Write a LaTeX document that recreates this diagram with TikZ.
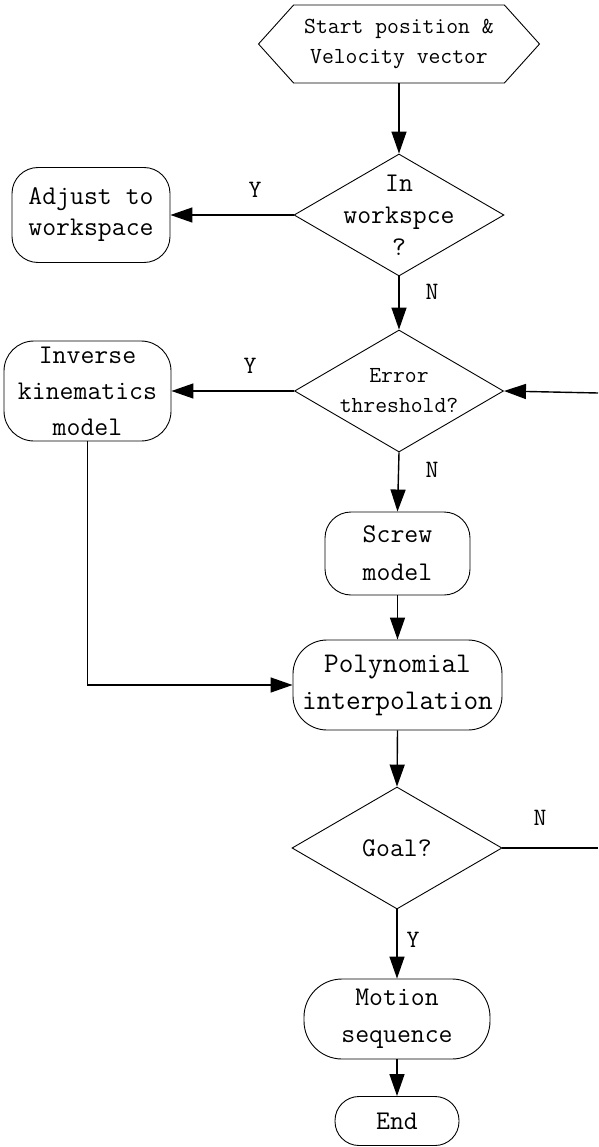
\documentclass[tikz,border=0pt]{standalone}
\usepackage{fontspec}
\usetikzlibrary{shapes.geometric,shapes.symbols,arrows.meta}
\begin{document}
\begin{tikzpicture}[x=1pt,y=-1pt,
  box/.style={draw,line width=0.9pt,rectangle,inner sep=0pt},
  dec/.style={draw,line width=0.9pt,diamond,inner sep=0pt},
  txt/.style={font=\ttfamily\fontsize{27}{36}\selectfont,align=center,inner sep=0pt},
  stxt/.style={font=\ttfamily\fontsize{23}{30}\selectfont,align=center,inner sep=0pt},
  yn/.style={font=\ttfamily\fontsize{25}{30}\selectfont,inner sep=0pt},
  conn/.style={line width=1.4pt,-{Triangle[length=22pt,width=15pt]}},
  plain/.style={line width=1.4pt}]
\useasboundingbox (0,0) rectangle (598,1147);
% nodes
\node[draw,line width=0.9pt,signal,signal to=west and east,signal pointer angle=96,
  minimum width=281pt,minimum height=78pt,inner sep=0pt,
  label={[stxt]center:Start position \&\\Velocity vector}] (start) at (399,44) {};
\node[dec,minimum width=210pt,minimum height=122pt,
  label={[txt,font=\ttfamily\fontsize{27}{32}\selectfont]center:In\\workspce\\?}] (d1) at (399,215) {};
\node[box,rounded corners=26pt,minimum width=158pt,minimum height=95pt,
  label={[txt,font=\ttfamily\fontsize{27}{31}\selectfont]center:Adjust to\\workspace}] (adj) at (91,215) {};
\node[dec,minimum width=209pt,minimum height=122pt,
  label={[stxt]center:Error\\threshold?}] (d2) at (399,391) {};
\node[box,rounded corners=30pt,minimum width=167pt,minimum height=100pt,
  label={[txt]center:Inverse\\kinematics\\model}] (inv) at (87.5,391) {};
\node[box,rounded corners=26pt,minimum width=145pt,minimum height=83pt,
  label={[txt,font=\ttfamily\fontsize{27}{38}\selectfont]center:Screw\\model}] (screw) at (397.5,553.5) {};
\node[box,rounded corners=34pt,minimum width=209pt,minimum height=90pt,
  label={[txt,font=\ttfamily\fontsize{28.5}{37}\selectfont]center:Polynomial\\interpolation}] (poly) at (397.5,685) {};
\node[dec,minimum width=210pt,minimum height=122pt,
  label={[txt]center:Goal?}] (goal) at (397,848) {};
\node[box,rounded corners=38pt,minimum width=186pt,minimum height=80pt,
  label={[txt,font=\ttfamily\fontsize{27}{37}\selectfont]center:Motion\\sequence}] (motion) at (397,1019) {};
\node[box,rounded corners=24pt,minimum width=124pt,minimum height=49pt,
  label={[txt]center:End}] (end) at (397,1121) {};
% free ends
\coordinate (fbin) at (598,393);
\coordinate (goalout) at (598,848);
% yes/no labels
\node[yn] (y1) at (255,190) {Y};
\node[yn] (n1) at (432,292) {N};
\node[yn] (y2) at (250,366) {Y};
\node[yn] (n2) at (432,470) {N};
\node[yn] (n3) at (540,818) {N};
\node[yn] (y3) at (413,940) {Y};
% connectors
\draw[conn] (start.south) -- (d1.north);
\draw[conn] (d1.west) -- (adj.east);
\draw[conn] (d1.south) -- (d2.north);
\draw[conn] (d2.west) -- (inv.east);
\draw[conn] (fbin) -- (d2.east);
\draw[conn] (d2.south) -- (screw.north);
\draw[conn] (screw.south) -- (poly.north);
\draw[conn] (inv.south) |- (poly.west);
\draw[conn] (poly.south) -- (goal.north);
\draw[plain] (goal.east) -- (goalout);
\draw[conn] (goal.south) -- (motion.north);
\draw[conn] (motion.south) -- (end.north);
\end{tikzpicture}
\end{document}
